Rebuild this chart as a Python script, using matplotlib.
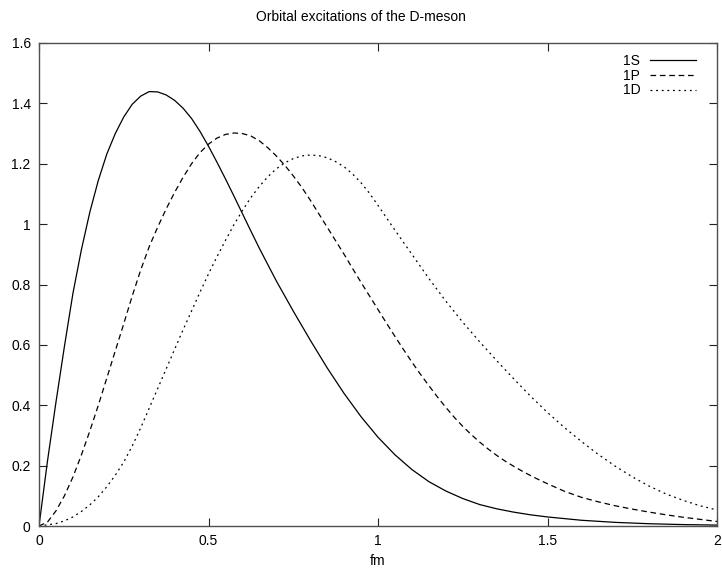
import matplotlib
matplotlib.use("Agg")
import matplotlib.pyplot as plt

plt.rcParams['font.family'] = ['Liberation Sans', 'DejaVu Sans']

# 1S (solid)
x_1s = [0.000, 0.025, 0.050, 0.075, 0.100, 0.125, 0.150, 0.175, 0.200, 0.225,
        0.250, 0.275, 0.300, 0.325, 0.350, 0.375, 0.400, 0.425, 0.450, 0.475,
        0.500, 0.525, 0.550, 0.575, 0.600, 0.625, 0.650, 0.700, 0.750, 0.800,
        0.850, 0.900, 0.950, 1.000, 1.050, 1.100, 1.150, 1.200, 1.250, 1.300,
        1.350, 1.400, 1.450, 1.500, 1.600, 1.700, 1.800, 1.900, 2.000]
y_1s = [0.000, 0.215, 0.410, 0.595, 0.770, 0.915, 1.040, 1.145, 1.232, 1.300,
        1.355, 1.397, 1.424, 1.439, 1.438, 1.428, 1.410, 1.384, 1.350, 1.307,
        1.258, 1.205, 1.150, 1.093, 1.035, 0.977, 0.920, 0.812, 0.712, 0.616,
        0.524, 0.439, 0.362, 0.294, 0.236, 0.187, 0.147, 0.116, 0.091, 0.071,
        0.057, 0.046, 0.037, 0.030, 0.019, 0.012, 0.0075, 0.0047, 0.003]

# 1P (dashed)
x_1p = [0.000, 0.025, 0.050, 0.075, 0.100, 0.125, 0.150, 0.175, 0.200, 0.225,
        0.250, 0.275, 0.300, 0.325, 0.350, 0.375, 0.400, 0.425, 0.450, 0.475,
        0.500, 0.525, 0.550, 0.575, 0.600, 0.625, 0.650, 0.675, 0.700, 0.725,
        0.750, 0.775, 0.800, 0.825, 0.850, 0.875, 0.900, 0.925, 0.950, 0.975,
        1.000, 1.025, 1.050, 1.075, 1.100, 1.125, 1.150, 1.175, 1.200, 1.225,
        1.250, 1.275, 1.300, 1.325, 1.350, 1.375, 1.400, 1.425, 1.450, 1.475,
        1.500, 1.550, 1.600, 1.650, 1.700, 1.750, 1.800, 1.850, 1.900, 1.950,
        2.000]
y_1p = [0.000, 0.013, 0.050, 0.100, 0.162, 0.235, 0.315, 0.400, 0.490, 0.580,
        0.670, 0.762, 0.848, 0.925, 0.990, 1.050, 1.105, 1.155, 1.200, 1.237,
        1.265, 1.285, 1.297, 1.302, 1.300, 1.292, 1.276, 1.253, 1.226, 1.195,
        1.160, 1.122, 1.080, 1.035, 0.990, 0.945, 0.900, 0.853, 0.807, 0.762,
        0.717, 0.672, 0.628, 0.585, 0.543, 0.503, 0.465, 0.428, 0.393, 0.360,
        0.330, 0.303, 0.278, 0.255, 0.234, 0.215, 0.198, 0.182, 0.167, 0.153,
        0.140, 0.115, 0.095, 0.080, 0.067, 0.056, 0.046, 0.037, 0.029, 0.022,
        0.015]

# 1D (dotted)
x_1d = [0.000, 0.050, 0.075, 0.100, 0.125, 0.150, 0.175, 0.200, 0.225, 0.250,
        0.275, 0.300, 0.325, 0.350, 0.375, 0.400, 0.425, 0.450, 0.475, 0.500,
        0.525, 0.550, 0.575, 0.600, 0.625, 0.650, 0.675, 0.700, 0.725, 0.750,
        0.775, 0.800, 0.825, 0.850, 0.875, 0.900, 0.925, 0.950, 0.975, 1.000,
        1.050, 1.100, 1.150, 1.200, 1.250, 1.300, 1.350, 1.400, 1.450, 1.500,
        1.550, 1.600, 1.650, 1.700, 1.750, 1.800, 1.850, 1.900, 1.950, 2.000]
y_1d = [0.000, 0.008, 0.017, 0.030, 0.048, 0.070, 0.097, 0.130, 0.168, 0.212,
        0.265, 0.325, 0.390, 0.455, 0.520, 0.585, 0.650, 0.712, 0.775, 0.835,
        0.892, 0.946, 0.998, 1.045, 1.088, 1.125, 1.157, 1.183, 1.203, 1.217,
        1.226, 1.229, 1.227, 1.220, 1.207, 1.190, 1.166, 1.137, 1.102, 1.062,
        0.980, 0.900, 0.820, 0.745, 0.675, 0.610, 0.548, 0.488, 0.430, 0.376,
        0.326, 0.280, 0.237, 0.198, 0.163, 0.132, 0.106, 0.085, 0.067, 0.053]

labels = ['1S', '1P', '1D']
title = 'Orbital excitations of the D-meson'
xlabel = 'fm'
xticks = [0, 0.5, 1, 1.5, 2]
xticklabels = ['0', '0.5', '1', '1.5', '2']
yticks = [0, 0.2, 0.4, 0.6, 0.8, 1.0, 1.2, 1.4, 1.6]
yticklabels = ['0', '0.2', '0.4', '0.6', '0.8', '1', '1.2', '1.4', '1.6']

fig = plt.figure(figsize=(7.22, 5.75), dpi=100)
ax = fig.add_axes([39/722, 1-526/575, (717-39)/722, (526-43)/575])

lw = 0.9
ax.plot(x_1s, y_1s, color='black', lw=lw, ls='-', label=labels[0])
ax.plot(x_1p, y_1p, color='black', lw=lw, ls=(0, (4.5, 3)), label=labels[1])
ax.plot(x_1d, y_1d, color='black', lw=lw, ls=(0, (1.5, 3)), label=labels[2])

ax.set_xlim(0, 2)
ax.set_ylim(0, 1.6)
ax.set_xticks(xticks)
ax.set_xticklabels(xticklabels)
ax.set_yticks(yticks)
ax.set_yticklabels(yticklabels)
ax.tick_params(direction='in', top=True, right=True, length=6, width=0.8,
               labelsize=10, pad=6, color='#202020')
for s in ax.spines.values():
    s.set_color('#505050')
    s.set_linewidth(1.0)

fig.text(0.5, 1-17/575, title, ha='center', va='center', fontsize=10)
ax.set_xlabel(xlabel, fontsize=10, labelpad=4)

leg = ax.legend(loc='upper right', frameon=False, markerfirst=False,
                fontsize=10, handlelength=3.3, handletextpad=0.7,
                labelspacing=0.05, borderaxespad=0.4, bbox_to_anchor=(0.985, 1.0))
for t in leg.get_texts():
    t.set_ha('right')

fig.savefig('out.png', dpi=100)
